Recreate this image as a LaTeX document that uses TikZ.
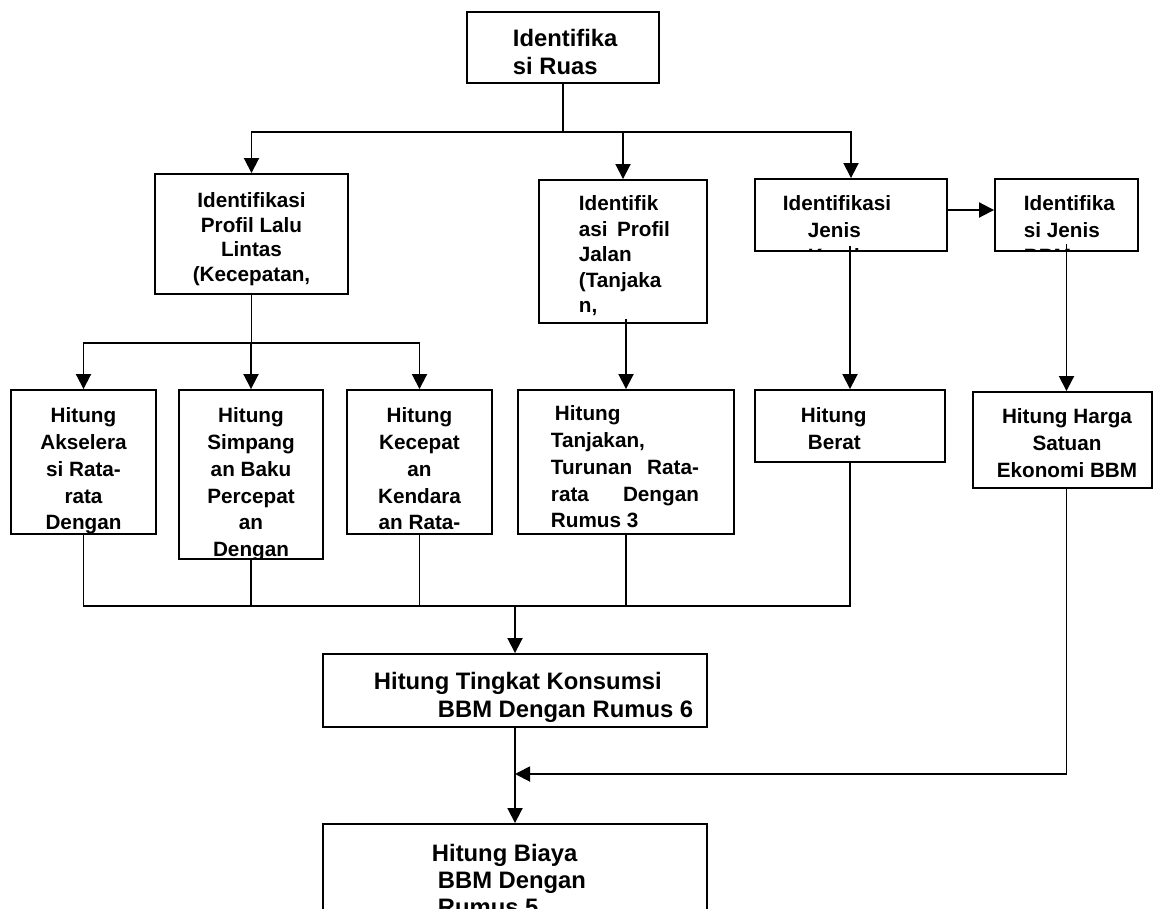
\documentclass[tikz,border=0pt]{standalone}
\usepackage{fontspec}
\setmainfont{Liberation Sans}
\usetikzlibrary{arrows.meta,fit}

\begin{document}
\begin{tikzpicture}[x=1pt,y=-1pt,
  line width=1.9pt,
  box/.style={draw, inner sep=0pt, line width=1.9pt},
  midtxt/.style={inner sep=0pt, font=\bfseries\fontsize{20.7}{26.7}\selectfont},
  bigtxt/.style={inner sep=0pt, font=\bfseries\fontsize{23.8}{28}\selectfont},
  conn/.style={line width=1.9pt, line cap=rect},
  arr/.style={line width=1.9pt, -{Triangle[width=15pt,length=15pt]}},
]
% page area
\fill[white] (0,0) rectangle (1161,909);
\clip (0,0) rectangle (1161,909);

% ---------- boxes ----------
\node[box, fit={(467,12) (659,83)}]    (ruas)  {};
\node[box, fit={(155,174) (348,294)}]  (lalu)  {};
\node[box, fit={(539,180) (707,323)}]  (jalan) {};
\node[box, fit={(755,179) (947,251)}]  (kend)  {};
\node[box, fit={(995,179) (1138,251)}] (bbm)   {};
\node[box, fit={(11,390) (156,534)}]   (akse)  {};
\node[box, fit={(179,390) (323,559)}]  (simp)  {};
\node[box, fit={(347,390) (492,534)}]  (kec)   {};
\node[box, fit={(518,390) (734,534)}]  (tanj)  {};
\node[box, fit={(755,390) (945,462)}]  (berat) {};
\node[box, fit={(973,392) (1152,488)}] (harga) {};
\node[box, fit={(323,654) (707,727)}]  (kons)  {};
\node[box, fit={(323,824) (707,960)}]  (biaya) {};

% ---------- texts, each cut off at the edge of its box ----------
\begin{scope}
  \clip (ruas.south west) rectangle (ruas.north east);
  \node[bigtxt, anchor=north west, align=left] (ruas-t) at (512,28) {Identifika\\si Ruas};
\end{scope}
\begin{scope}
  \clip (lalu.south west) rectangle (lalu.north east);
  \node[midtxt, font=\bfseries\fontsize{20.7}{24.5}\selectfont, anchor=north, align=center] (lalu-t) at (251.5,192)
    {Identifikasi\\Profil Lalu\\Lintas\\(Kecepatan,};
\end{scope}
\begin{scope}
  \clip (jalan.south west) rectangle (jalan.north east);
  \node[midtxt, font=\bfseries\fontsize{20.7}{25.5}\selectfont, anchor=north west, align=left] (jalan-t) at (578,195)
    {Identifik\\\hbox to 91pt{asi\hfill Profil}\\Jalan\\(Tanjaka\\n,};
\end{scope}
\begin{scope}
  \clip (kend.south west) rectangle (kend.north east);
  \node[midtxt, font=\bfseries\fontsize{20.7}{26.5}\selectfont, anchor=north west, align=left] (kend-t) at (782,195)
    {Identifikasi\\\hspace*{25pt}Jenis\\\hspace*{25pt}Kendaraan};
\end{scope}
\begin{scope}
  \clip (bbm.south west) rectangle (bbm.north east);
  \node[midtxt, font=\bfseries\fontsize{20.7}{26.5}\selectfont, anchor=north west, align=left] (bbm-t) at (1023,195)
    {Identifika\\si Jenis\\BBM};
\end{scope}
\begin{scope}
  \clip (akse.south west) rectangle (akse.north east);
  \node[midtxt, anchor=north, align=center] (akse-t) at (akse.north |- 0,407)
    {Hitung\\Akselera\\si Rata-\\rata\\Dengan};
\end{scope}
\begin{scope}
  \clip (simp.south west) rectangle (simp.north east);
  \node[midtxt, anchor=north, align=center] (simp-t) at (simp.north |- 0,407)
    {Hitung\\Simpang\\an Baku\\Percepat\\an\\Dengan};
\end{scope}
\begin{scope}
  \clip (kec.south west) rectangle (kec.north east);
  \node[midtxt, anchor=north, align=center] (kec-t) at (kec.north |- 0,407)
    {Hitung\\Kecepat\\an\\Kendara\\an Rata-};
\end{scope}
\begin{scope}
  \clip (tanj.south west) rectangle (tanj.north east);
  \node[midtxt, anchor=north west, align=left] (tanj-t) at (550,405)
    {\hspace*{4pt}Hitung\\Tanjakan,\\\hbox to 148pt{Turunan\hfill Rata-}\\\hbox to 148pt{rata\hfill Dengan}\\Rumus 3};
\end{scope}
\begin{scope}
  \clip (berat.south west) rectangle (berat.north east);
  \node[midtxt, anchor=north west, align=left] (berat-t) at (800,407)
    {Hitung\\\hspace*{7pt}Berat\\\hspace*{7pt}Kendaraan};
\end{scope}
\begin{scope}
  \clip (harga.south west) rectangle (harga.north east);
  \node[midtxt, anchor=north, align=center] (harga-t) at (1067,408)
    {Hitung Harga\\Satuan\\Ekonomi BBM};
\end{scope}
\begin{scope}
  \clip (kons.south west) rectangle (kons.north east);
  \node[bigtxt, anchor=north west, align=left] (kons-t) at (373,671)
    {Hitung Tingkat Konsumsi\\\hspace*{64pt}BBM Dengan Rumus 6};
\end{scope}
\begin{scope}
  \clip (biaya.south west) rectangle (biaya.north east);
  \node[bigtxt, font=\bfseries\fontsize{23.8}{27}\selectfont, anchor=north west, align=left] (biaya-t) at (431,843)
    {Hitung Biaya\\\hspace*{6pt}BBM Dengan\\\hspace*{6pt}Rumus 5};
\end{scope}

% ---------- connectors ----------
\coordinate (j1) at (0,132);
\coordinate (j2) at (0,343);
\coordinate (j3) at (0,606);
\coordinate (j4) at (0,774);

% from the road identification to the three profiles
\draw[conn] (ruas.south) -- (ruas.south |- j1);
\draw[conn] (lalu.north |- j1) -- (kend.north |- j1);
\draw[arr] (lalu.north |- j1) -- (lalu.north);
\draw[arr] (jalan.north |- j1) -- (jalan.north);
\draw[arr] (kend.north |- j1) -- (kend.north);
\draw[arr] ([yshift=5pt]kend.east) -- ([yshift=5pt]bbm.west);

% traffic profile to its three calculations
\draw[conn] (lalu.south) -- (lalu.south |- j2);
\draw[conn] (akse.north |- j2) -- (kec.north |- j2);
\draw[arr] (akse.north |- j2) -- (akse.north);
\draw[arr] (simp.north |- j2) -- (simp.north);
\draw[arr] (kec.north |- j2) -- (kec.north);

% road profile, vehicle type and fuel type
\draw[arr] ([yshift=5pt]tanj.north |- jalan.south) -- (tanj.north);
\draw[arr] ([yshift=6pt]berat.north |- kend.south) -- (berat.north);
\draw[arr] ([yshift=8pt]bbm.south) -- (bbm.south |- harga.north);

% collecting line into the consumption step
\draw[conn] (akse.south) -- (akse.south |- j3);
\draw[conn] (simp.south) -- (simp.south |- j3);
\draw[conn] (kec.south) -- (kec.south |- j3);
\draw[conn] (tanj.south) -- (tanj.south |- j3);
\draw[conn] (berat.south) -- (berat.south |- j3);
\draw[conn] (akse.south |- j3) -- (berat.south |- j3);
\draw[arr] (kons.north |- j3) -- (kons.north);

% fuel price joins before the cost step
\draw[conn] (bbm.south |- harga.south) -- (bbm.south |- j4);
\draw[arr] (bbm.south |- j4) -- (kons.south |- j4);
\draw[arr] (kons.south) -- (biaya.north);
\end{tikzpicture}
\end{document}
